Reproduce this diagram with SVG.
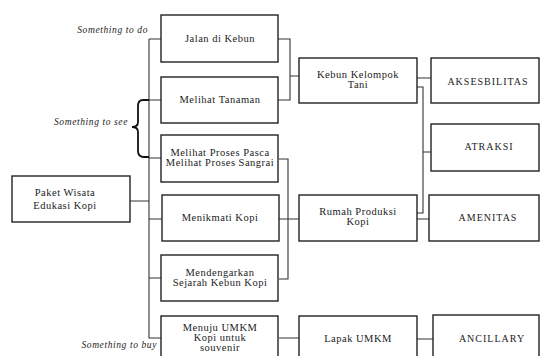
<svg xmlns="http://www.w3.org/2000/svg" width="541" height="356" viewBox="0 0 541 356">
<style>
.box{fill:#fff;stroke:#222;stroke-width:1.4}
.t{font-family:"Liberation Serif",serif;font-size:10.5px;fill:#222;text-anchor:middle;letter-spacing:0.5px}
.cap{font-family:"Liberation Serif",serif;font-size:10px;fill:#222;text-anchor:middle;letter-spacing:1px}
.it{font-family:"Liberation Serif",serif;font-size:9.5px;font-style:italic;fill:#222;text-anchor:end;letter-spacing:0.6px}
.c{fill:none;stroke:#333;stroke-width:1.1}
</style>
<rect width="541" height="356" fill="#fff"/>
<g id="connectors">
<path class="c" d="M149,39 V338 H161"/>
<path class="c" d="M149,39 H161 M149,100 H161 M149,158 H161 M149,219 H162 M149,278 H161 M129,201 H149"/>
<path class="c" d="M278,39 H290 V100 H278 M290,76 H299"/>
<path class="c" d="M279,159 H288 V279 H279 M279,219 H299"/>
<path class="c" d="M417,78 H431 M417,87 H423 V213 H417 M423,152 H431 M417,219 H429"/>
<path class="c" d="M279,338 H299 M417,339 H433"/>
<path d="M149,100 H143 Q138,100 138,106 V122 Q138,127 132,127 Q138,127 138,132 V151 Q138,157 144,157 H149" fill="none" stroke="#111" stroke-width="1.8"/>
</g>
<g id="labels">
<text class="it" x="148" y="33">Something to do</text>
<text class="it" x="128" y="125">Something to see</text>
<text class="it" x="157" y="348">Something to buy</text>
</g>
<g id="paket"><rect class="box" x="12" y="176" width="118" height="46"/><text class="t" x="65" y="196">Paket Wisata</text><text class="t" x="65" y="209">Edukasi Kopi</text></g>
<g id="jalan"><rect class="box" x="161" y="15" width="117" height="47"/><text class="t" x="220" y="42">Jalan di Kebun</text></g>
<g id="tanaman"><rect class="box" x="161" y="77" width="117" height="46"/><text class="t" x="220" y="103">Melihat Tanaman</text></g>
<g id="proses"><rect class="box" x="161" y="135" width="117" height="47"/><text class="t" x="220" y="156" letter-spacing="0.2">Melihat Proses Pasca</text><text class="t" x="220" y="166" letter-spacing="0.2">Melihat Proses Sangrai</text></g>
<g id="menikmati"><rect class="box" x="162" y="195" width="117" height="46"/><text class="t" x="220" y="221">Menikmati Kopi</text></g>
<g id="sejarah"><rect class="box" x="161" y="255" width="117" height="46"/><text class="t" x="220" y="276">Mendengarkan</text><text class="t" x="220" y="286">Sejarah Kebun Kopi</text></g>
<g id="umkm"><rect class="box" x="161" y="316" width="117" height="50"/><text class="t" x="220" y="331">Menuju UMKM</text><text class="t" x="220" y="341">Kopi untuk</text><text class="t" x="220" y="351">souvenir</text></g>
<g id="kebun"><rect class="box" x="299" y="58" width="118" height="45"/><text class="t" x="358" y="78">Kebun Kelompok</text><text class="t" x="358" y="88">Tani</text></g>
<g id="rumah"><rect class="box" x="299" y="195" width="118" height="46"/><text class="t" x="358" y="215">Rumah Produksi</text><text class="t" x="358" y="225">Kopi</text></g>
<g id="lapak"><rect class="box" x="299" y="316" width="118" height="50"/><text class="t" x="358" y="342">Lapak UMKM</text></g>
<g id="aksesbilitas"><rect class="box" x="431" y="58" width="108" height="45"/><text class="cap" x="488" y="85">AKSESBILITAS</text></g>
<g id="atraksi"><rect class="box" x="431" y="124" width="108" height="47"/><text class="cap" x="489" y="150">ATRAKSI</text></g>
<g id="amenitas"><rect class="box" x="429" y="195" width="110" height="46"/><text class="cap" x="488" y="221">AMENITAS</text></g>
<g id="ancillary"><rect class="box" x="433" y="315" width="106" height="50"/><text class="cap" x="492" y="342">ANCILLARY</text></g>
</svg>
